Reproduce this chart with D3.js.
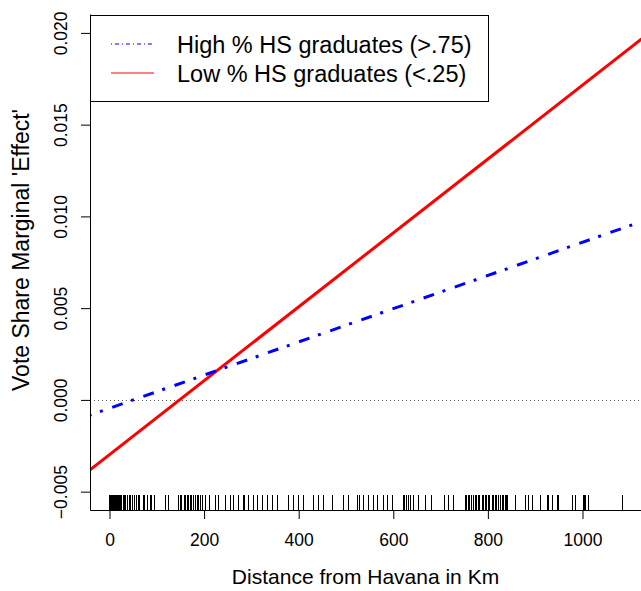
<!DOCTYPE html>
<html>
<head>
<meta charset="utf-8">
<!-- Load d3 -->
<script src="https://d3js.org/d3.v7.min.js"></script>
<title>Vote Share Marginal Effect by Distance from Havana</title>
<style type="text/css">
  body { margin: 0; background: #fff; }
  text { font-family: "Liberation Sans", Helvetica, Arial, sans-serif; fill: #000; }
</style>
</head>
<body>
<div id="myvisualization"></div>
<script>

// line end points (distance in km, marginal effect)
var distance = [-60, 1200];
var highHS = [-0.00100, 0.01040];
var lowHS = [-0.00419, 0.02118];

// tick labels
var xTicks = [0, 200, 400, 600, 800, 1000];
var yTicks = [-0.005, 0.000, 0.005, 0.010, 0.015, 0.020];

// legend entries
var legendLabels = ["High % HS graduates (>.75)", "Low % HS graduates (<.25)"];

// rug of observed distances (km)
var rugKm = [0, 1, 2, 3, 4, 5, 6, 7, 8, 9, 10, 11, 12, 13, 14, 16, 17, 19,
  20, 23, 25, 28, 31, 33, 36, 38, 42, 44, 48, 52, 55, 60, 62,
  71, 73, 79, 86, 88, 94, 117, 124,
  145, 150, 152, 157, 159, 163, 166, 170, 172, 177, 180, 185, 187, 192, 196,
  202, 210, 223, 229, 244, 255, 261, 272, 282, 284, 293, 303, 312, 322, 333, 344, 354,
  377, 388, 399, 409, 430, 441, 451, 470, 494, 504, 523,
  527, 536, 547, 557, 566, 578, 587, 597, 620, 622, 626, 632, 636, 642, 652, 667, 680,
  707, 716, 726,
  751, 753, 758, 760, 765, 768, 773, 775, 779, 782, 787, 789, 793, 796,
  801, 803, 808, 810, 815, 817, 822, 825, 829, 831, 836, 839, 841,
  857, 878, 885, 893, 910, 925, 927, 935, 946, 948, 978, 984, 1001, 1003, 1005, 1012, 1083];

// set the dimensions of the graph
var W = 641, H = 591;
var plotLeft = 90, plotRight = 641, plotTop = 14, plotBottom = 510;

var svg = d3.select("#myvisualization").append("svg")
  .attr("width", W)
  .attr("height", H);

// scales
var x = d3.scaleLinear().domain([-41.2, 1123.7]).range([plotLeft, plotRight]);
var y = d3.scaleLinear().domain([-0.00600, 0.02103]).range([plotBottom, plotTop]);

svg.append("clipPath").attr("id", "plotclip")
  .append("rect")
  .attr("x", plotLeft).attr("y", plotTop)
  .attr("width", plotRight - plotLeft).attr("height", plotBottom - plotTop);

// zero reference line
svg.append("line")
  .attr("x1", plotLeft).attr("x2", plotRight)
  .attr("y1", Math.round(y(0)) + 0.5).attr("y2", Math.round(y(0)) + 0.5)
  .attr("stroke", "#555")
  .attr("stroke-width", 1)
  .attr("stroke-dasharray", "1,3");

var line = d3.line()
  .x(function(d) { return x(d[0]); })
  .y(function(d) { return y(d[1]); });

var plot = svg.append("g").attr("clip-path", "url(#plotclip)");

// low % HS graduates (solid red)
plot.append("path")
  .datum(distance.map(function(d, i) { return [d, lowHS[i]]; }))
  .attr("d", line)
  .attr("fill", "none")
  .attr("stroke", "#ff0000")
  .attr("stroke-width", 3);

// high % HS graduates (dash-dot blue)
plot.append("path")
  .datum(distance.map(function(d, i) { return [d, highHS[i]]; }))
  .attr("d", line)
  .attr("fill", "none")
  .attr("stroke", "#0000ff")
  .attr("stroke-width", 3)
  .attr("stroke-dasharray", "11,9,3,10");

// rug
svg.append("g").selectAll("line")
  .data(rugKm)
  .enter().append("line")
  .attr("x1", function(d) { return Math.round(x(d)) + 0.5; })
  .attr("x2", function(d) { return Math.round(x(d)) + 0.5; })
  .attr("y1", plotBottom - 15)
  .attr("y2", plotBottom)
  .attr("stroke", "#000")
  .attr("stroke-width", 1);

// x axis
var xAxis = svg.append("g")
  .attr("transform", "translate(0," + plotBottom + ")")
  .call(d3.axisBottom(x).tickValues(xTicks).tickSize(9).tickSizeOuter(0)
    .tickFormat(d3.format("d")));
xAxis.selectAll("text")
  .attr("y", 36).attr("dy", 0)
  .style("font-size", "17.5px");

// y axis
var yAxis = svg.append("g")
  .attr("transform", "translate(" + plotLeft + ",0)")
  .call(d3.axisLeft(y).tickValues(yTicks).tickSize(9).tickSizeOuter(0)
    .tickFormat(d3.format(".3f")));
yAxis.selectAll("text")
  .attr("transform", "rotate(-90)")
  .attr("x", 0).attr("y", -23).attr("dy", 0)
  .attr("text-anchor", "middle")
  .style("font-size", "17.5px");

svg.selectAll(".domain").attr("stroke", "#000");
svg.selectAll(".tick line").attr("stroke", "#000");

// axis titles
svg.append("text")
  .attr("x", (plotLeft + plotRight) / 2)
  .attr("y", 584)
  .attr("text-anchor", "middle")
  .style("font-size", "21px")
  .text("Distance from Havana in Km");

svg.append("text")
  .attr("transform", "translate(29,250) rotate(-90)")
  .attr("text-anchor", "middle")
  .style("font-size", "23px")
  .text("Vote Share Marginal 'Effect'");

// legend
var legend = svg.append("g");
legend.append("rect")
  .attr("x", 90.5).attr("y", 15.5)
  .attr("width", 398).attr("height", 86)
  .attr("fill", "#fff")
  .attr("stroke", "#000");

var legendStyles = [
  { color: "#0000ff", dash: "1,3,4,3" },
  { color: "#ff0000", dash: null }
];

legendLabels.forEach(function(label, i) {
  var cy = 44 + i * 29;
  legend.append("line")
    .attr("x1", 111).attr("x2", 154)
    .attr("y1", cy).attr("y2", cy)
    .attr("stroke", legendStyles[i].color)
    .attr("stroke-width", 1)
    .attr("stroke-dasharray", legendStyles[i].dash);
  legend.append("text")
    .attr("x", 177)
    .attr("y", cy + 9)
    .style("font-size", "23.5px")
    .text(label);
});

</script>
</body>
</html>
